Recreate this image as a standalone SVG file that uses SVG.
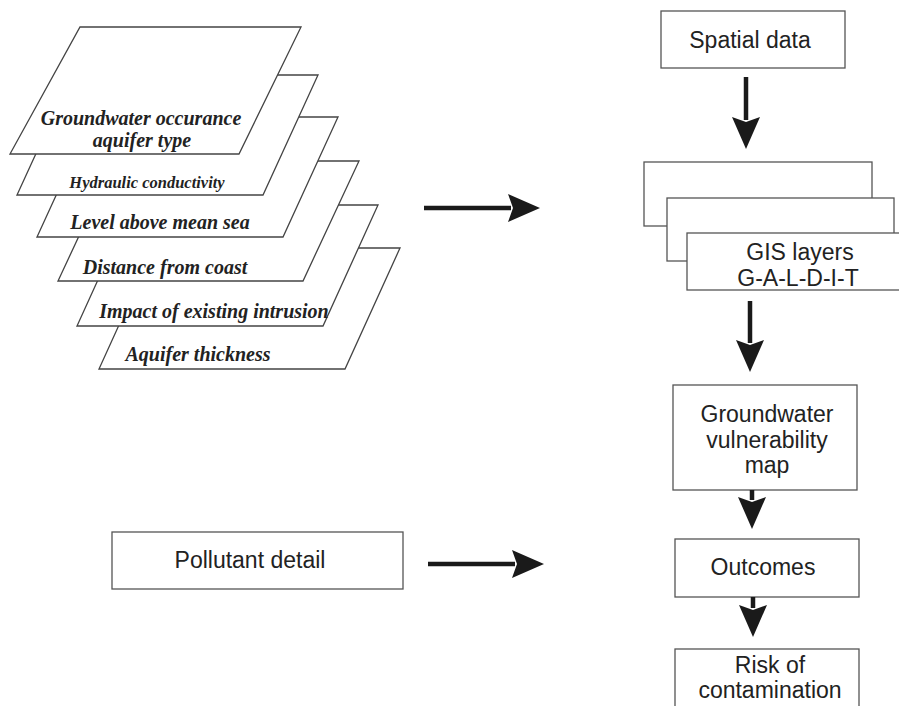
<svg xmlns="http://www.w3.org/2000/svg" width="899" height="706" viewBox="0 0 899 706">
<defs>
<style>
.layer{fill:#fff;stroke:#444;stroke-width:1.3}
.box{fill:#fff;stroke:#555;stroke-width:1.3}
.lt{font-family:"Liberation Serif","Times New Roman",serif;font-weight:bold;font-style:italic;font-size:20px;fill:#222;text-anchor:middle}
.bt{font-family:"Liberation Sans",Arial,sans-serif;font-size:23px;fill:#222;text-anchor:middle}
.conn{stroke:#1a1a1a;stroke-width:4.5;fill:none;marker-end:url(#ah)}
</style>
<marker id="ah" viewBox="0 0 32 28" markerWidth="32" markerHeight="28" markerUnits="userSpaceOnUse" refX="3" refY="14" orient="auto">
<path d="M0,0 L32,14 L0,28 L5,14 Z" fill="#1a1a1a"/>
</marker>
</defs>
<rect width="899" height="706" fill="#fff"/>
<g id="layer-aquifer-thickness">
<polygon class="layer" points="154,248 400,248 345,369 99,369"/>
<text class="lt" x="198" y="361">Aquifer thickness</text>
</g>
<g id="layer-impact">
<polygon class="layer" points="132,205 378,205 323,326 77,326"/>
<text class="lt" x="214" y="318">Impact of existing intrusion</text>
</g>
<g id="layer-distance">
<polygon class="layer" points="114,161 359,161 303,281 58,281"/>
<text class="lt" x="165" y="274">Distance from coast</text>
</g>
<g id="layer-level">
<polygon class="layer" points="92,117 338,117 283,237 37,237"/>
<text class="lt" x="160" y="229">Level above mean sea</text>
</g>
<g id="layer-hydraulic">
<polygon class="layer" points="72,75 318,75 263,195 17,195"/>
<text class="lt" x="147" y="188" style="font-size:16.5px">Hydraulic conductivity</text>
</g>
<g id="layer-groundwater">
<polygon class="layer" points="80,27 301,27 239,154 10,154"/>
<text class="lt" x="141" y="125">Groundwater occurance</text>
<text class="lt" x="142" y="147">aquifer type</text>
</g>
<g id="spatial-data">
<rect class="box" x="661" y="11" width="184" height="57"/>
<text class="bt" x="750" y="48">Spatial data</text>
</g>
<g id="gis-layers">
<rect class="box" x="644" y="162" width="228" height="64"/>
<rect class="box" x="667" y="198" width="227" height="63"/>
<rect class="box" x="687" y="233" width="220" height="57"/>
<text class="bt" x="800" y="260">GIS layers</text>
<text class="bt" x="798" y="286">G-A-L-D-I-T</text>
</g>
<g id="vulnerability-map">
<rect class="box" x="673" y="385" width="184" height="105"/>
<text class="bt" x="767" y="422">Groundwater</text>
<text class="bt" x="767" y="448">vulnerability</text>
<text class="bt" x="767" y="473">map</text>
</g>
<g id="outcomes">
<rect class="box" x="675" y="539" width="184" height="58"/>
<text class="bt" x="763" y="575">Outcomes</text>
</g>
<g id="risk">
<rect class="box" x="675" y="649" width="184" height="70"/>
<text class="bt" x="770" y="673">Risk of</text>
<text class="bt" x="770" y="698">contamination</text>
</g>
<g id="pollutant">
<rect class="box" x="112" y="532" width="291" height="57"/>
<text class="bt" x="250" y="568">Pollutant detail</text>
</g>
<g id="connectors">
<line class="conn" x1="746" y1="77" x2="746" y2="120"/>
<line class="conn" x1="750" y1="301" x2="750" y2="343"/>
<line class="conn" x1="752" y1="490" x2="752" y2="500"/>
<line class="conn" x1="753" y1="597" x2="753" y2="608"/>
<line class="conn" x1="424" y1="208" x2="511" y2="208"/>
<line class="conn" x1="428" y1="564" x2="515" y2="564"/>
</g>
</svg>
